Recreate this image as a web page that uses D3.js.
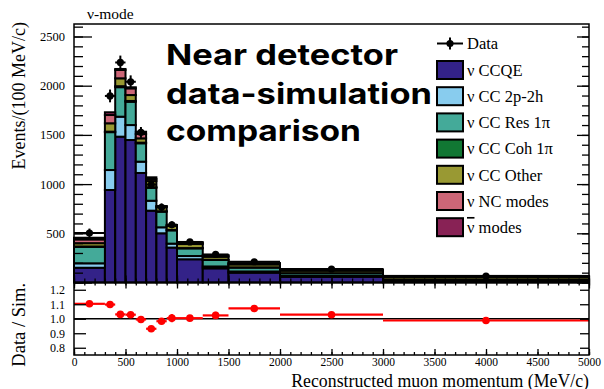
<!DOCTYPE html>
<html><head><meta charset="utf-8">
<script src="https://cdn.jsdelivr.net/npm/d3@7"></script>
<style>
body{margin:0;background:#fff}
svg{display:block}
text{font-family:"Liberation Serif","Times New Roman",serif;fill:#000}
</style></head><body>
<svg id="chart" width="604" height="389"></svg>
<script>
// Reconstructed muon momentum bins (MeV/c)
const binEdges = [0,300,400,500,600,700,800,900,1000,1250,1500,2000,3000,5000];

// Simulated interaction modes, stacked bottom to top (Events / 100 MeV/c)
const modeKeys   = ["ccqe","cc2p2h","ccRes","ccCoh","ccOther","ncModes","nubarModes"];
const modeLabels = ["ν CCQE","ν CC 2p-2h","ν CC Res 1π","ν CC Coh 1π","ν CC Other","ν NC modes","ν modes"];
const modeColors = ["#332288","#88ccee","#44aa99","#117733","#999933","#cc6677","#882255"];
const ccqe       = [150, 940,1482,1448,1113,730,500,355,236,144,100,58,16];
const cc2p2h     = [ 45, 203, 203, 152, 115,101, 61, 40, 33, 19, 12, 8, 3];
const ccRes      = [167, 385, 300, 237, 187,132,159,135, 78, 66, 40,28,12];
const ccCoh      = [  4,   5,  10,   8,   6,  5,  4,  4,  3,  2,  2, 1, 1];
const ccOther    = [ 34,  85,  80,  60,  44, 63, 43, 41, 41, 31, 30,25,25];
const ncModes    = [ 38,  84,  85,  68,  44, 21,  6,  6, 12, 10,  8, 8, 6];
const nubarModes = [ 17,  28,  10,  11,  23, 17,  4,  4,  7,  6,  5, 5, 4];

// Measured data
const dataValues = [503,1896,2236,2040,1525,995,764,587,412,285,211,137,66];
const dataErrors = [ 45,  65,  70,  65,  55, 45, 40, 35, 25, 20, 15, 10, 6];

// Data / simulation ratio
const ratioValues = [1.103,1.098,1.030,1.028,0.995,0.931,0.983,1.004,1.004,1.023,1.071,1.028,0.988];
const ratioErrors = [0.010,0.010,0.010,0.010,0.012,0.015,0.020,0.028,0.015,0.025,0.020,0.015,0.010];

// Axis ticks
const xMajor = [0,500,1000,1500,2000,2500,3000,3500,4000,4500,5000];
const xMinor = d3.range(0,5001,100);
const yMajor = [0,500,1000,1500,2000,2500];
const yMinor = d3.range(0,2601,100);
const rMajor = [0.8,0.9,1.0,1.1,1.2];

const titleText = "ν-mode";
const overlayLines = ["Near detector","data-simulation","comparison"];

const svg = d3.select("#chart");

const X0 = 74, X1 = 589, TOP = 24, MID = 282.5, BOT = 355;
const x = d3.scaleLinear().domain([0,5000]).range([X0,X1]);
const y = d3.scaleLinear().domain([0,2627]).range([MID,TOP]);
const yr = d3.scaleLinear().domain([0.75,1.25]).range([BOT,MID]);

// Table of bins for the stack
const series = {ccqe,cc2p2h,ccRes,ccCoh,ccOther,ncModes,nubarModes};
const table = binEdges.slice(0,-1).map((lo,i)=>{
  const row = {lo, hi: binEdges[i+1]};
  modeKeys.forEach(k=>row[k]=series[k][i]);
  return row;
});
const stacked = d3.stack().keys(modeKeys)(table);

// Stacked histogram
const gStack = svg.append("g");
stacked.forEach((layer,li)=>{
  gStack.selectAll(null).data(layer).join("rect")
    .attr("x",d=>x(d.data.lo))
    .attr("width",d=>x(d.data.hi)-x(d.data.lo))
    .attr("y",d=>y(d[1]))
    .attr("height",d=>Math.max(0,y(d[0])-y(d[1])))
    .attr("fill",modeColors[li])
    .attr("stroke","#000").attr("stroke-width",2);
});

// Data points with error bars
const gData = svg.append("g");
table.forEach((b,i)=>{
  const cx = x((b.lo+b.hi)/2), cy = y(dataValues[i]);
  gData.append("line").attr("x1",x(b.lo)).attr("x2",x(b.hi)).attr("y1",cy).attr("y2",cy)
    .attr("stroke","#000").attr("stroke-width",2);
  gData.append("line").attr("x1",cx).attr("x2",cx)
    .attr("y1",y(dataValues[i]-dataErrors[i])).attr("y2",y(dataValues[i]+dataErrors[i]))
    .attr("stroke","#000").attr("stroke-width",2);
  gData.append("circle").attr("cx",cx).attr("cy",cy).attr("r",3.6).attr("fill","#000");
});

// Ratio panel: reference line and points
svg.append("line").attr("x1",X0).attr("x2",X1).attr("y1",yr(1)).attr("y2",yr(1))
  .attr("stroke","#000").attr("stroke-width",1.5);
const gRat = svg.append("g");
table.forEach((b,i)=>{
  const cx = x((b.lo+b.hi)/2), cy = yr(ratioValues[i]);
  gRat.append("line").attr("x1",x(b.lo)).attr("x2",x(b.hi)).attr("y1",cy).attr("y2",cy)
    .attr("stroke","#ff0000").attr("stroke-width",2.2);
  gRat.append("line").attr("x1",cx).attr("x2",cx)
    .attr("y1",yr(ratioValues[i]-ratioErrors[i])).attr("y2",yr(ratioValues[i]+ratioErrors[i]))
    .attr("stroke","#ff0000").attr("stroke-width",2.2);
  gRat.append("circle").attr("cx",cx).attr("cy",cy).attr("r",3.8).attr("fill","#ff0000");
});

// Axes
function clean(g){ g.select(".domain").remove(); g.selectAll("line").attr("stroke","#000").attr("stroke-width",1.3); }
function tickFont(g,size){ g.selectAll("text").attr("font-family","Liberation Serif, serif").attr("font-size",size).attr("fill","#000"); }

// top panel left
svg.append("g").attr("transform",`translate(${X0},0)`)
  .call(d3.axisLeft(y).tickValues(yMinor).tickSizeInner(-9).tickSizeOuter(0).tickFormat(""))
  .call(clean);
svg.append("g").attr("transform",`translate(${X0},0)`)
  .call(d3.axisLeft(y).tickValues(yMajor).tickSizeInner(-18).tickSizeOuter(0).tickPadding(9)
        .tickFormat(d=>d===0?"":d))
  .call(clean).call(g=>tickFont(g,12.5));
// top panel right
svg.append("g").attr("transform",`translate(${X1},0)`)
  .call(d3.axisRight(y).tickValues(yMinor).tickSizeInner(-7).tickSizeOuter(0).tickFormat(""))
  .call(clean);
svg.append("g").attr("transform",`translate(${X1},0)`)
  .call(d3.axisRight(y).tickValues(yMajor).tickSizeInner(-12).tickSizeOuter(0).tickFormat(""))
  .call(clean);
// top panel bottom (ticks up)
svg.append("g").attr("transform",`translate(0,${MID})`)
  .call(d3.axisBottom(x).tickValues(xMinor).tickSizeInner(-4).tickSizeOuter(0).tickFormat(""))
  .call(clean);
svg.append("g").attr("transform",`translate(0,${MID})`)
  .call(d3.axisBottom(x).tickValues(xMajor).tickSizeInner(-7).tickSizeOuter(0).tickFormat(""))
  .call(clean);
// ratio panel top (ticks down)
svg.append("g").attr("transform",`translate(0,${MID})`)
  .call(d3.axisTop(x).tickValues(xMinor).tickSizeInner(-3).tickSizeOuter(0).tickFormat(""))
  .call(clean);
svg.append("g").attr("transform",`translate(0,${MID})`)
  .call(d3.axisTop(x).tickValues(xMajor).tickSizeInner(-6).tickSizeOuter(0).tickFormat(""))
  .call(clean);
// ratio panel bottom
svg.append("g").attr("transform",`translate(0,${BOT})`)
  .call(d3.axisBottom(x).tickValues(xMinor).tickSizeInner(-3).tickSizeOuter(0).tickFormat(""))
  .call(clean);
svg.append("g").attr("transform",`translate(0,${BOT})`)
  .call(d3.axisBottom(x).tickValues(xMajor).tickSizeInner(-6).tickSizeOuter(0).tickPadding(3).tickFormat(d3.format("d")))
  .call(clean).call(g=>tickFont(g,11.5));
// ratio panel left / right
svg.append("g").attr("transform",`translate(${X0},0)`)
  .call(d3.axisLeft(yr).tickValues(rMajor).tickSizeInner(-12).tickSizeOuter(0).tickPadding(9).tickFormat(d3.format(".1f")))
  .call(clean).call(g=>tickFont(g,12));
svg.append("g").attr("transform",`translate(${X1},0)`)
  .call(d3.axisRight(yr).tickValues(rMajor).tickSizeInner(-9).tickSizeOuter(0).tickFormat(""))
  .call(clean);

// Frames
svg.append("rect").attr("x",X0).attr("y",TOP).attr("width",X1-X0).attr("height",MID-TOP)
  .attr("fill","none").attr("stroke","#000").attr("stroke-width",1.5);
svg.append("rect").attr("x",X0).attr("y",MID).attr("width",X1-X0).attr("height",BOT-MID)
  .attr("fill","none").attr("stroke","#000").attr("stroke-width",1.5);

// Axis titles
svg.append("text").attr("transform",`translate(25,${TOP-2}) rotate(-90)`)
  .attr("text-anchor","end").attr("font-size",18).text("Events/(100 MeV/c)");
svg.append("text").attr("transform",`translate(25,${(MID+BOT)/2+6}) rotate(-90)`)
  .attr("text-anchor","middle").attr("font-size",18.5).text("Data / Sim.");
svg.append("text").attr("x",X1).attr("y",386.5).attr("text-anchor","end")
  .attr("font-size",17.8).text("Reconstructed muon momentum (MeV/c)");
svg.append("text").attr("x",87).attr("y",19).attr("font-size",15.5).text(titleText);

// Legend
const LX = 437, LW = 26, LH = 18;
const gL = svg.append("g");
gL.append("line").attr("x1",LX).attr("x2",LX+LW).attr("y1",43.5).attr("y2",43.5).attr("stroke","#000").attr("stroke-width",2);
gL.append("line").attr("x1",LX+LW/2).attr("x2",LX+LW/2).attr("y1",37.5).attr("y2",49.5).attr("stroke","#000").attr("stroke-width",2);
gL.append("circle").attr("cx",LX+LW/2).attr("cy",43.5).attr("r",3.6).attr("fill","#000");
gL.append("text").attr("x",467).attr("y",43.5).attr("dy","0.35em").attr("font-size",16.5).text("Data");
modeLabels.forEach((lab,i)=>{
  const cy = 70 + i*26.2;
  gL.append("rect").attr("x",LX).attr("y",cy-LH/2).attr("width",LW).attr("height",LH)
    .attr("fill",modeColors[i]).attr("stroke","#000").attr("stroke-width",2);
  const t = gL.append("text").attr("x",467).attr("y",cy).attr("dy","0.35em").attr("font-size",16.5);
  if (i === modeLabels.length-1) {
    t.append("tspan").style("text-decoration","overline").text("ν");
    t.append("tspan").text(lab.slice(1));
  } else t.text(lab);
});

// Overlay heading
const ov = svg.append("g");
const ovWidths = [232,266,195];
const ovBase = [65,104,141];
overlayLines.forEach((s,i)=>{
  ov.append("text").attr("x",166).attr("y",ovBase[i])
    .style("font-family","Inter, 'DejaVu Sans', sans-serif")
    .attr("font-weight",700).attr("font-size",29)
    .attr("textLength",ovWidths[i]).attr("lengthAdjust","spacingAndGlyphs")
    .text(s);
});
</script>
</body></html>
